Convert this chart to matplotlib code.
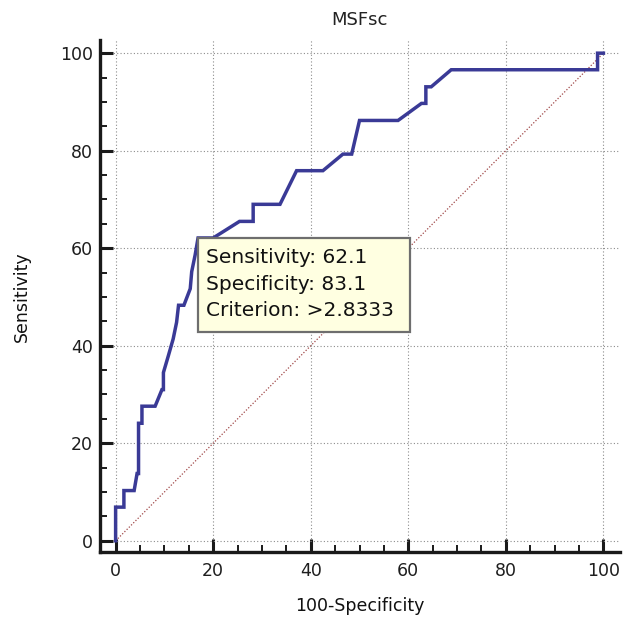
import matplotlib
matplotlib.use("Agg")
import matplotlib.pyplot as plt
from matplotlib.patches import Rectangle
from matplotlib.transforms import ScaledTranslation
from matplotlib.ticker import MultipleLocator

# ---- data ----
fpr = [0, 0, 1.7, 1.7, 3.8, 4.4, 4.7, 4.7, 5.4, 5.4, 8.1, 9.5, 9.8, 9.8, 10.8,
       11.8, 12.5, 12.9, 14.0, 15.3, 15.6, 16.3, 16.9, 20.0, 25.4, 28.2, 28.2,
       33.7, 37.1, 42.5, 46.6, 48.4, 50.0, 57.9, 62.7, 63.6, 63.6, 64.7, 68.8,
       98.8, 98.8, 100]
sens = [0, 6.9, 6.9, 10.3, 10.3, 13.8, 13.8, 24.1, 24.1, 27.6, 27.6, 31.0, 31.0,
        34.5, 37.9, 41.4, 44.8, 48.3, 48.3, 51.7, 55.2, 58.6, 62.1, 62.1, 65.5,
        65.5, 69.0, 69.0, 75.9, 75.9, 79.3, 79.3, 86.2, 86.2, 89.7, 89.7, 93.1,
        93.1, 96.6, 96.6, 100, 100]
diag = [0, 100]
ticks = [0, 20, 40, 60, 80, 100]
opt_sens = 62.1
opt_spec = 83.1
criterion = ">2.8333"
title = "MSFsc"

W, H = 623, 622
fig = plt.figure(figsize=(W / 100, H / 100), dpi=100)
ax = fig.add_axes([100 / W, (H - 552) / H, 520 / W, 512 / H])

ax.set_xlim(-3.2, 103.4)
ax.set_ylim(-2.3, 102.7)

ax.grid(True, which="major", color="#8c8c8c", linestyle=(0, (1, 2)), linewidth=0.8)
ax.set_axisbelow(True)

ax.plot(diag, diag, color="#a04848", linestyle=(0, (1, 1.5)), linewidth=0.9)
ax.plot(fpr, sens, color="#3a3a96", linewidth=2.5, solid_joinstyle="miter")

for s in ["top", "right"]:
    ax.spines[s].set_visible(False)
for s in ["left", "bottom"]:
    ax.spines[s].set_linewidth(2.4)
    ax.spines[s].set_color("#1a1a1a")

ax.set_xticks(ticks)
ax.set_yticks(ticks)
ax.xaxis.set_minor_locator(MultipleLocator(5))
ax.yaxis.set_minor_locator(MultipleLocator(5))
ax.tick_params(which="major", direction="in", length=9.5, width=2.2, color="#1a1a1a",
               labelsize=12.5, labelcolor="#1e1e1e")
ax.tick_params(which="minor", direction="in", length=5, width=1.4, color="#1a1a1a")
ax.tick_params(axis="x", which="major", pad=7)
ax.tick_params(axis="y", which="major", pad=5)

fig.text(359 / W, 1 - 20 / H, title, ha="center", va="center", fontsize=13, color="#222222")
fig.text(360 / W, 1 - 606 / H, "100-Specificity", ha="center", va="center", fontsize=12.5,
         color="#111111")
fig.text(22 / W, 1 - 297 / H, "Sensitivity", ha="center", va="center", rotation=90,
         fontsize=12.5, color="#111111")

# annotation box anchored at the optimal point
ax_x = 100 - opt_spec
ax_y = opt_sens
anchor = ScaledTranslation(ax_x, ax_y, ax.transData)
box = Rectangle((0, -0.94), 2.12, 0.94, transform=fig.dpi_scale_trans + anchor,
                facecolor="#ffffe1", edgecolor="#6e6e6e", linewidth=1.6, zorder=5)
ax.add_patch(box)
txt = f"Sensitivity: {opt_sens}\nSpecificity: {opt_spec}\nCriterion: {criterion}"
ax.annotate(txt, xy=(ax_x, ax_y), xycoords="data", xytext=(6, -7.5),
            textcoords="offset points", ha="left", va="top", fontsize=14.5,
            linespacing=1.5, color="#111111", zorder=6)

fig.savefig("out.png", dpi=100)
